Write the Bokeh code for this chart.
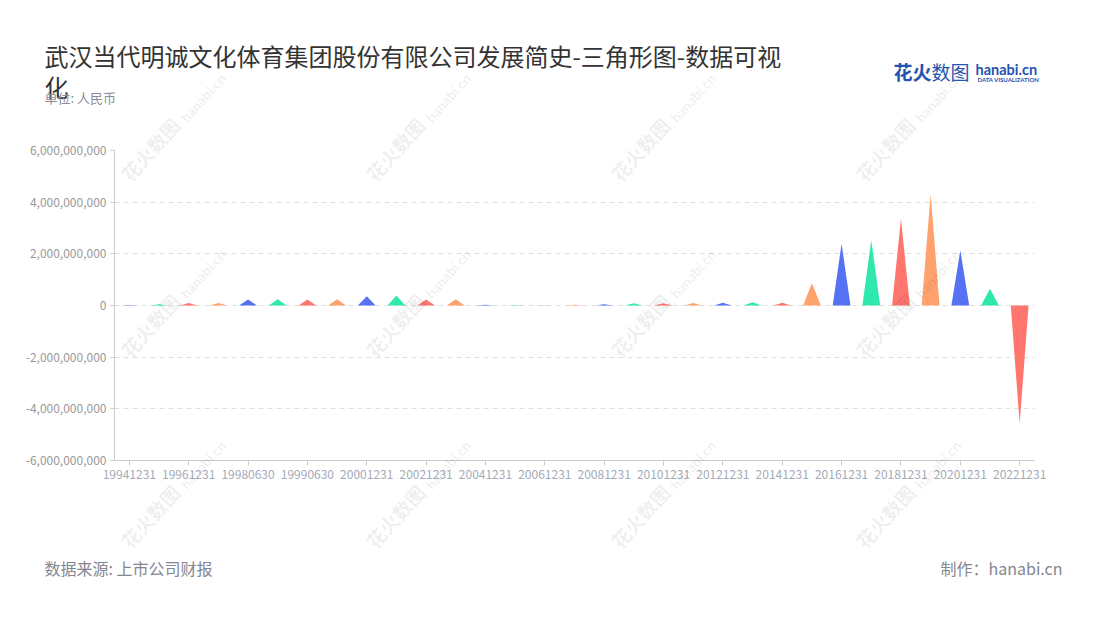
import math
from bokeh.plotting import figure
from bokeh.models import Label, FixedTicker, NumeralTickFormatter, Range1d, ColumnDataSource
from bokeh.embed import file_html
from bokeh.resources import INLINE

# ---------------- data ----------------
dates = ["19941231", "19951231", "19961231", "19971231", "19980630", "19981231",
         "19990630", "19991231", "20001231", "20011231", "20021231", "20031231",
         "20041231", "20051231", "20061231", "20071231", "20081231", "20091231",
         "20101231", "20111231", "20121231", "20131231", "20141231", "20151231",
         "20161231", "20171231", "20181231", "20191231", "20201231", "20211231",
         "20221231"]
values = [20e6, 50e6, 100e6, 95e6, 232e6, 240e6,
          235e6, 240e6, 360e6, 390e6, 230e6, 240e6,
          25e6, -20e6, 5e6, 30e6, 50e6, 90e6,
          90e6, 100e6, 110e6, 125e6, 110e6, 860e6,
          2390e6, 2520e6, 3360e6, 4320e6, 2130e6, 650e6,
          -4580e6]
palette = ["#5672f2", "#2ee8ae", "#ff766f", "#ffa26d"]
y_ticks = [-6e9, -4e9, -2e9, 0, 2e9, 4e9, 6e9]
label_every = 2

title_line1 = "武汉当代明诚文化体育集团股份有限公司发展简史-三角形图-数据可视"
title_line2 = "化"
subtitle = "单位: 人民币"
source_text = "数据来源: 上市公司财报"
credit_text = "制作：hanabi.cn"

CJK = "Noto Sans CJK SC"

# ---------------- geometry (page pixels) ----------------
W, H = 1100, 620
FRAME_L, FRAME_T, FRAME_R, FRAME_B = 114, 150, 1034, 460

# ---------------- main chart ----------------
p = figure(width=W, height=H, output_backend="svg", toolbar_location=None,
           x_range=Range1d(-0.5, len(dates) - 0.5), y_range=Range1d(-6e9, 6e9),
           min_border_left=FRAME_L, min_border_right=W - FRAME_R,
           min_border_top=FRAME_T, min_border_bottom=H - FRAME_B, title=None)
p.outline_line_color = None
p.background_fill_color = "white"
p.border_fill_color = "white"

hw = 0.3
xs, ys, cols = [], [], []
for i, v in enumerate(values):
    xs.append([i - hw, i, i + hw])
    ys.append([0, v, 0])
    cols.append(palette[i % len(palette)])
src = ColumnDataSource(dict(xs=xs, ys=ys, color=cols))
p.patches(xs="xs", ys="ys", fill_color="color", line_color=None, source=src)

xt = list(range(0, len(dates), label_every))
p.xaxis.ticker = FixedTicker(ticks=xt)
p.xaxis.major_label_overrides = {i: dates[i] for i in xt}
p.xaxis.minor_tick_line_color = None
p.xaxis.major_tick_in = 0
p.xaxis.major_tick_out = 5
p.xaxis.axis_line_color = "#cccccc"
p.xaxis.major_tick_line_color = "#cccccc"
p.xaxis.major_label_text_color = "#a3aab8"
p.xaxis.major_label_text_font_size = "12px"
p.xaxis.major_label_text_font = CJK
p.xaxis.major_label_standoff = 4

p.yaxis.ticker = FixedTicker(ticks=y_ticks)
p.yaxis.formatter = NumeralTickFormatter(format="0,0")
p.yaxis.minor_tick_line_color = None
p.yaxis.major_tick_in = 0
p.yaxis.major_tick_out = 4
p.yaxis.axis_line_color = "#cccccc"
p.yaxis.major_tick_line_color = "#cccccc"
p.yaxis.major_label_text_color = "#999999"
p.yaxis.major_label_text_font_size = "12px"
p.yaxis.major_label_text_font = CJK
p.yaxis.major_label_standoff = 4

p.xgrid.visible = False
p.ygrid.ticker = FixedTicker(ticks=y_ticks)
p.ygrid.grid_line_color = "#e0e0e0"
p.ygrid.grid_line_dash = "5 4"

# ---------------- transparent overlay for page texts ----------------
ov = figure(width=W, height=H, output_backend="svg", toolbar_location=None,
            x_axis_type=None, y_axis_type=None, title=None,
            min_border=0, min_border_left=0, min_border_right=0,
            min_border_top=0, min_border_bottom=0,
            x_range=Range1d(0, W), y_range=Range1d(H, 0))
ov.outline_line_color = None
ov.background_fill_color = None
ov.border_fill_color = None
ov.styles = {"position": "absolute", "top": "0px", "left": "0px"}


def lab(text, X, Y, size, color, align="left", baseline="middle", style="normal",
        angle=0.0, alpha=1.0, font=CJK):
    ov.add_layout(Label(x=X, y=Y, text=text, text_font=font, text_font_size=size,
                        text_color=color, text_align=align, text_baseline=baseline,
                        text_font_style=style, angle=angle, text_alpha=alpha))


# watermarks
wm_cols = [134, 379, 624, 869]
wm_rows = [186, 362, 553]
ang = math.radians(48)
for X0 in wm_cols:
    for Y0 in wm_rows:
        lab("花火数图", X0, Y0, "19px", "#000000", baseline="bottom", style="bold",
            angle=ang, alpha=0.08)
        d = 82
        lab("hanabi.cn", X0 + d * math.cos(ang), Y0 - d * math.sin(ang), "14px", "#000000",
            baseline="bottom", style="bold", angle=ang, alpha=0.08, font="Lato")

# titles
lab(title_line1, 44, 55, "24px", "#333333")
lab(title_line2, 44, 86, "24px", "#333333")
lab(subtitle, 44, 97, "13px", "#8c8c99")

# logo
lab("花火", 893, 71, "19px", "#2553b0", style="bold")
lab("数图", 931, 71, "19px", "#2553b0")
lab("hanabi.cn", 975, 69, "14.5px", "#2553b0", style="bold", font="Lato")
lab("DATA VISUALIZATION", 977, 79, "6px", "#2553b0", style="bold", font="Lato")

# footer
lab(source_text, 44, 567, "16px", "#858590")
lab(credit_text, 1062, 567, "16px", "#858590", align="right")

open("out.html", "w").write(file_html([p, ov], INLINE))
